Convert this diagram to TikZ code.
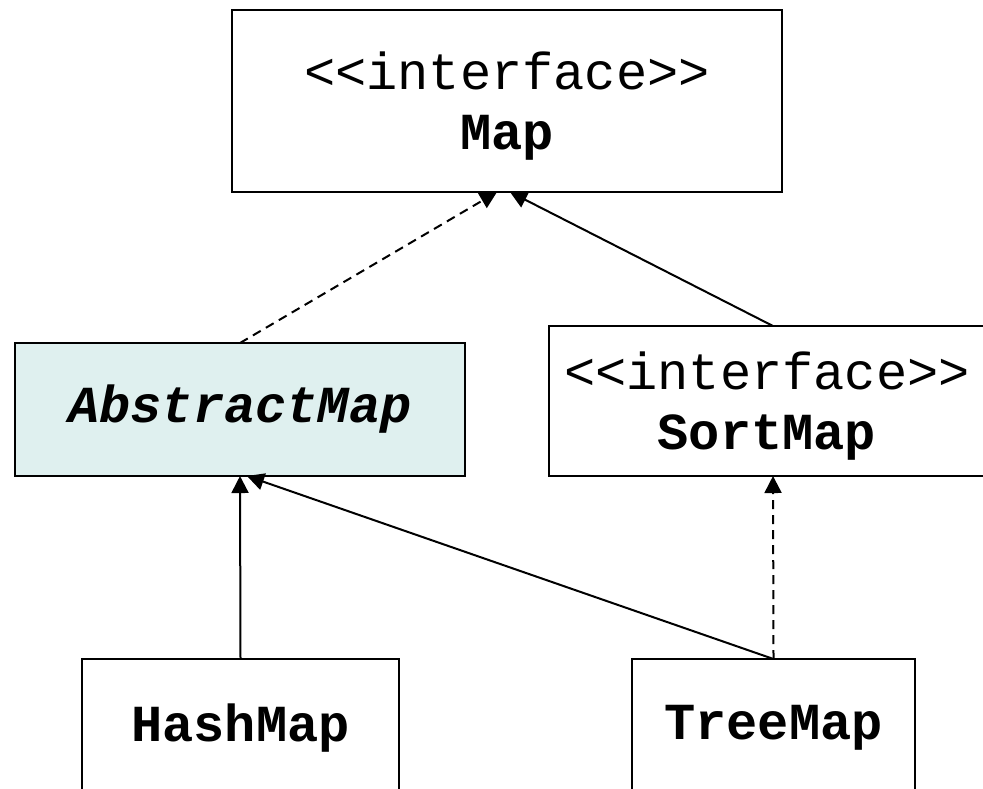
\documentclass[tikz,border=0pt]{standalone}
\usepackage{fontspec}
\setmainfont{Liberation Mono}
\usetikzlibrary{arrows.meta}
\definecolor{absfill}{RGB}{223,240,239}
\newcommand{\topstrut}{\rule{0pt}{23.5pt}}
\begin{document}
\begin{tikzpicture}[x=0.5pt,y=-0.5pt,
  cls/.style={draw=black, line width=1pt, inner sep=0pt, outer sep=0pt, align=center,
    font=\fontsize{26}{30}\selectfont, fill=white},
  inh/.style={line width=1pt, -{Triangle[length=8.5pt,width=8.5pt]}},
  real/.style={inh, dash pattern=on 4.5pt off 3pt}]
\useasboundingbox (0,0) rectangle (983,788);
\clip (0,0) rectangle (983,788);
\node[cls, minimum width=275pt, minimum height=91pt] (map) at (507,101)
  {\topstrut<{}<interface>{}>\\\textbf{Map}};
\node[cls, fill=absfill, minimum width=225pt, minimum height=66.5pt] (abs) at (240,409.5)
  {\textbf{\textit{AbstractMap}}};
\node[cls, minimum width=218pt, minimum height=75pt] (sort) at (767,401)
  {\topstrut<{}<interface>{}>\\\textbf{SortMap}};
\node[cls, minimum width=158.5pt, minimum height=69pt] (hash) at (240.5,728)
  {\textbf{HashMap}};
\node[cls, minimum width=141.5pt, minimum height=69pt] (tree) at (773.5,728)
  {\textbf{TreeMap}};
\draw[real] (abs.north) -- ([xshift=-5pt]map.south);
\draw[inh] ([xshift=3pt]sort.north) -- ([xshift=1.5pt]map.south);
\draw[inh] (hash.north) -- (abs.south);
\draw[inh] (tree.north) -- ([xshift=3.5pt]abs.south);
\draw[real] (tree.north) -- ([xshift=3pt]sort.south);
\end{tikzpicture}
\end{document}
